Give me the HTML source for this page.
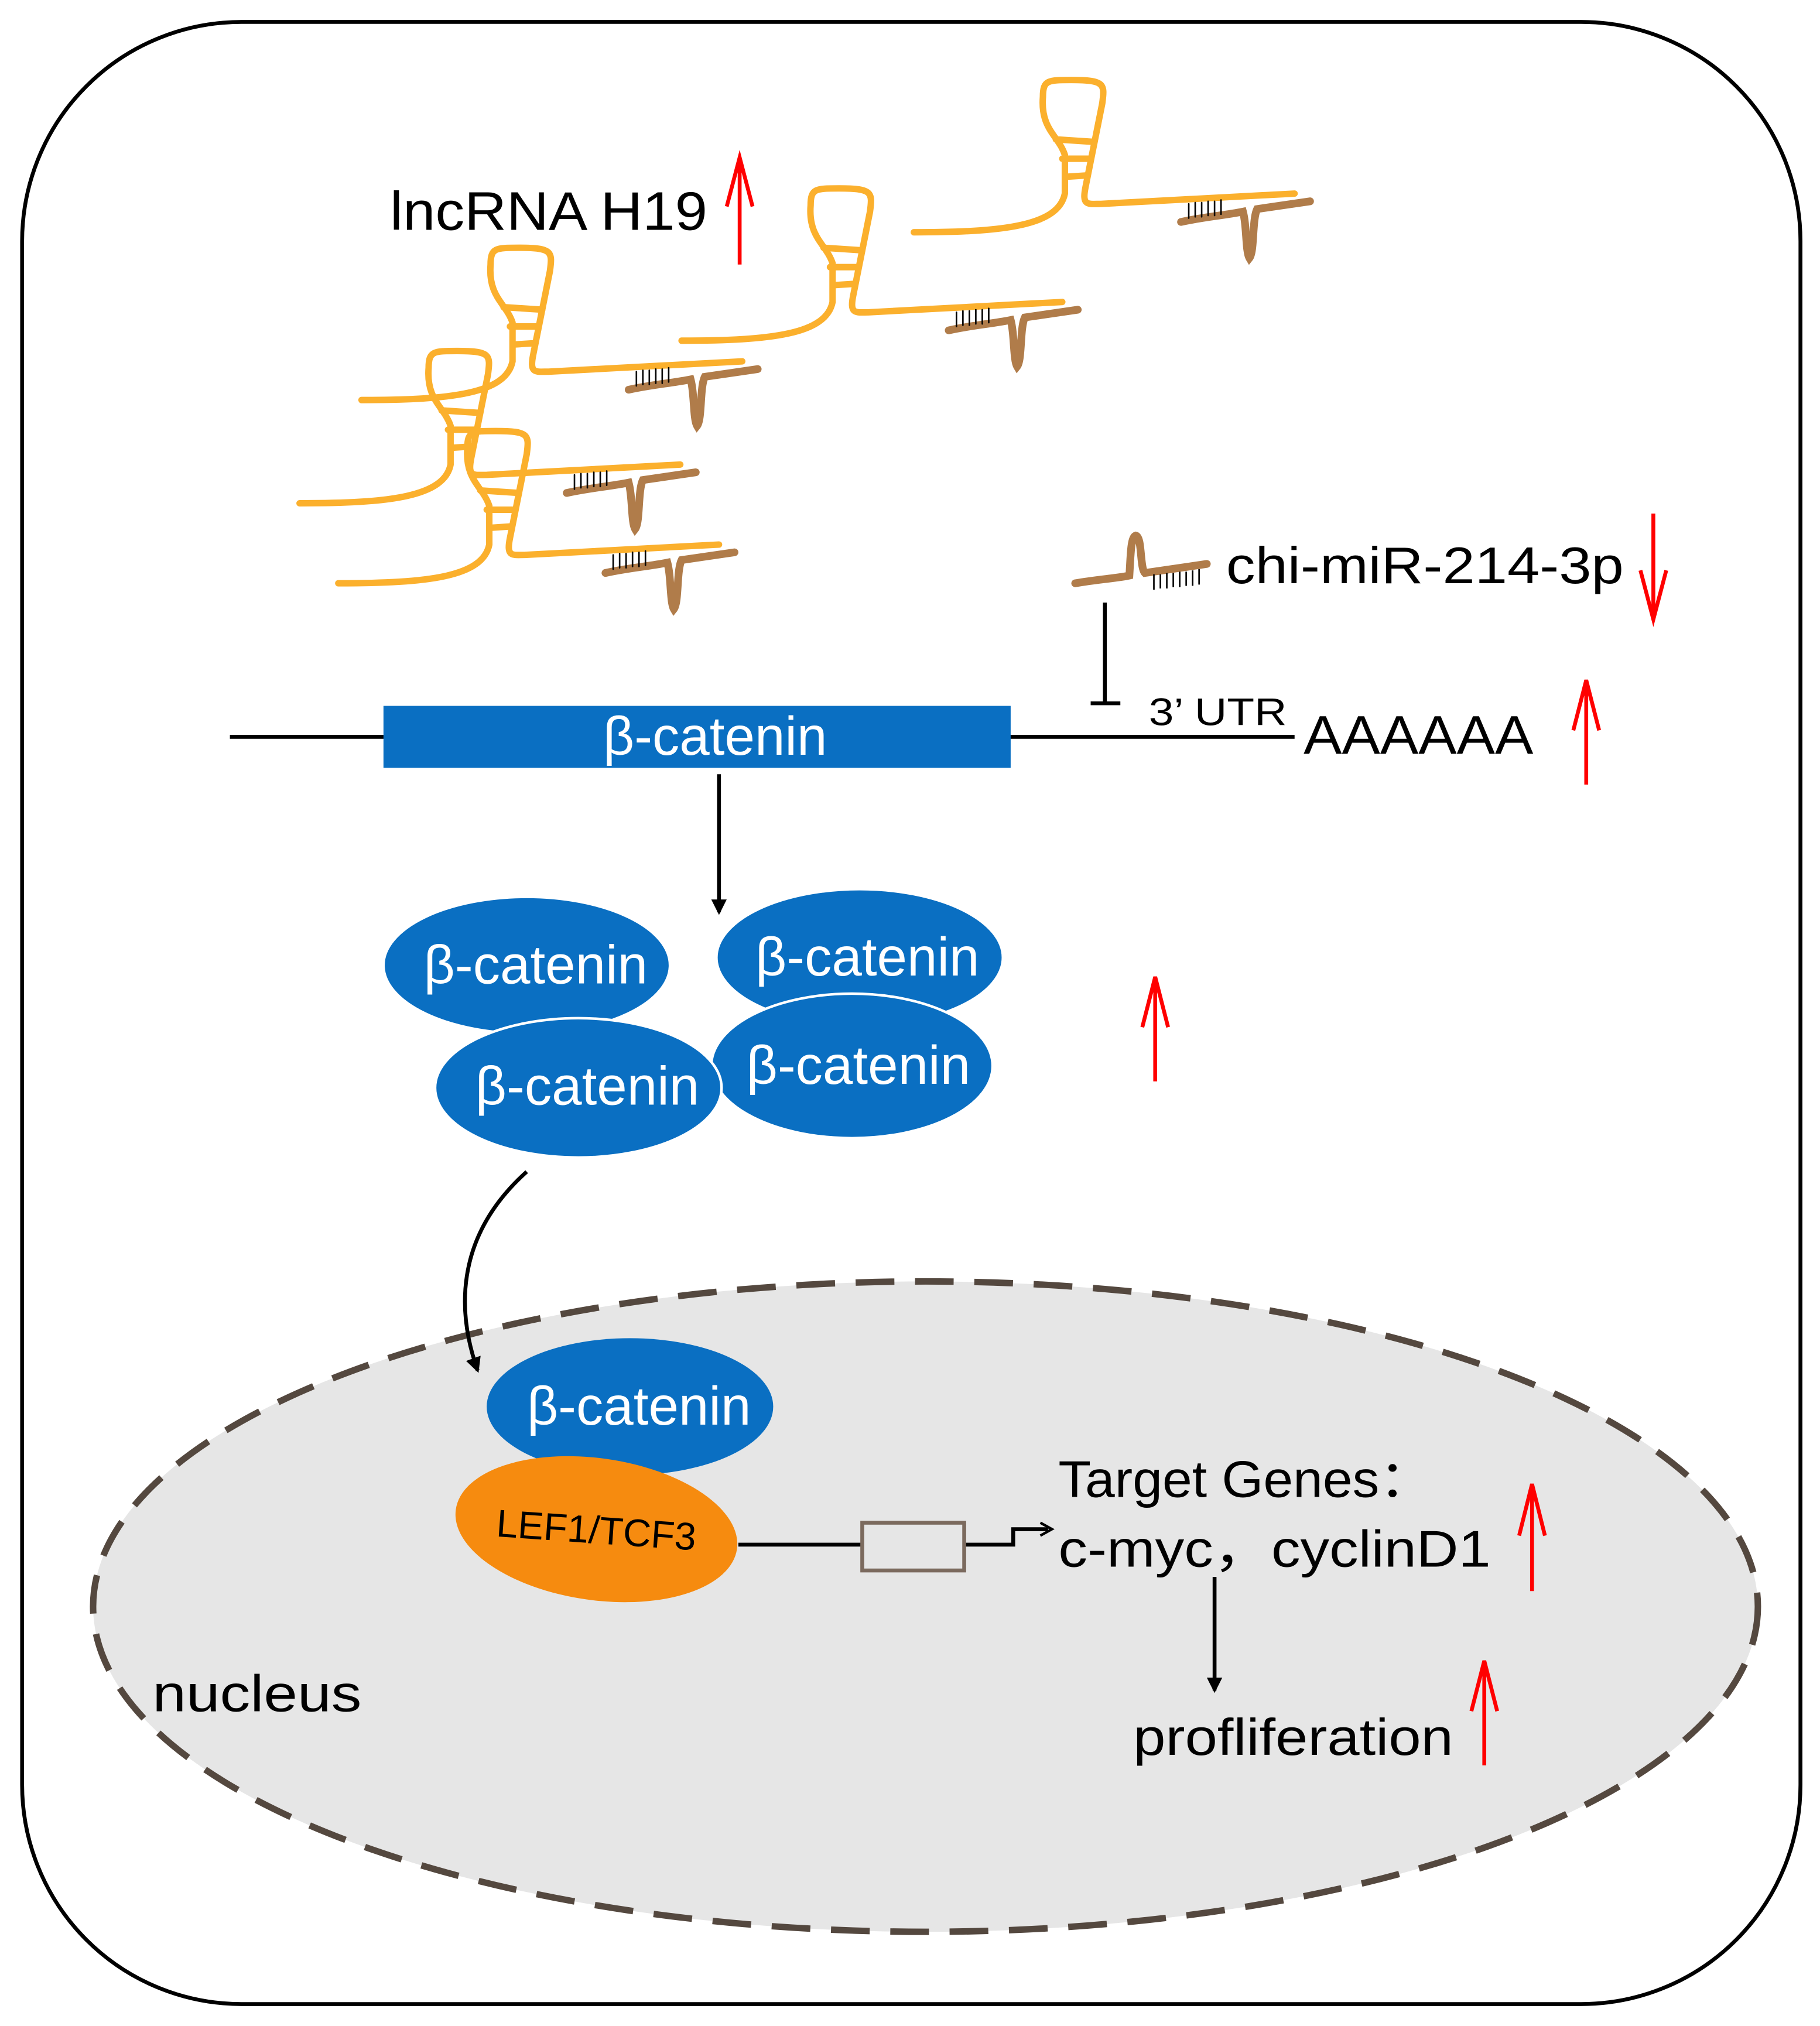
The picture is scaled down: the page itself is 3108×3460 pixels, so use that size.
<!DOCTYPE html>
<html><head><meta charset="utf-8"><style>html,body{margin:0;padding:0;background:#fff}svg{display:block}</style></head>
<body>
<svg width="3108" height="3460" viewBox="0 0 1410 1570" xmlns="http://www.w3.org/2000/svg" font-family="Liberation Sans, sans-serif">
<defs>
<g id="rna" fill="none" stroke-linecap="round">
<path d="M0,0 C70,0 112,-5 117,-30 L117,-60 C112,-75 98,-80 100,-105 C100,-118 104,-118 122,-118 C148,-118 148,-115 146,-100 L133,-35 C130,-20 135,-22 145,-22 L295,-30" stroke="#fbb02d" stroke-width="5"/>
<path d="M110,-72 L140,-70 M115,-57 L137,-57 M118,-43 L133,-44" stroke="#fbb02d" stroke-width="5"/>
<path d="M207,-8 C225,-12 240,-13 255,-16 C258,-5 257,15 260,20 C264,15 262,-10 266,-18 L307,-24" stroke="#b07c4a" stroke-width="6"/>
<path d="M213,-22 V-11 M218,-23 V-12 M223,-23 V-12 M228,-24 V-13 M233,-24 V-13 M238,-25 V-14" stroke="#000" stroke-width="1.2"/>
</g>
<marker id="ah" markerWidth="12" markerHeight="12" refX="10" refY="6" orient="auto" markerUnits="userSpaceOnUse"><path d="M0,0 L12,6 L0,12 z" fill="#000"/></marker>
</defs>
<rect x="17" y="17" width="1378" height="1536" rx="170" fill="#fff" stroke="#000" stroke-width="3"/>
<ellipse cx="717" cy="1245" rx="645" ry="252" fill="#e6e6e6" stroke="#54483f" stroke-width="5" stroke-dasharray="30 16"/>
<use href="#rna" transform="translate(708,180)"/>
<use href="#rna" transform="translate(528,264)"/>
<use href="#rna" transform="translate(280,310)"/>
<use href="#rna" transform="translate(232,390)"/>
<use href="#rna" transform="translate(262,452)"/>
<text x="302" y="178" font-size="42" textLength="246" lengthAdjust="spacingAndGlyphs">lncRNA H19</text>
<g stroke="#f00" stroke-width="3" fill="none">
<path d="M573,205 V122 M563,160 L573,122 L583,160"/>
<path d="M1281,398 V480 M1271,442 L1281,480 L1291,442"/>
<path d="M1229,608 V527 M1219,566 L1229,527 L1239,566"/>
<path d="M895,838 V757 M885,796 L895,757 L905,796"/>
<path d="M1187,1233 V1150 M1177,1190 L1187,1150 L1197,1190"/>
<path d="M1150,1368 V1287 M1140,1326 L1150,1287 L1160,1326"/>
</g>
<path d="M833,452 C850,449 866,448 875,446 C876,430 876,416 880,415 C885,416 883,440 887,444 L935,437" stroke="#b07c4a" stroke-width="6" fill="none" stroke-linecap="round"/>
<path d="M894,445 V457 M899,445 V456 M904,444 V456 M909,444 V455 M914,443 V455 M919,443 V454 M924,442 V454 M929,441 V453" stroke="#000" stroke-width="1.2"/>
<text x="950" y="452" font-size="40" textLength="308" lengthAdjust="spacingAndGlyphs">chi-miR-214-3p</text>
<path d="M856,467 V545 M845,545 H868" stroke="#000" stroke-width="3" fill="none"/>
<path d="M178,571 H1003" stroke="#000" stroke-width="3"/>
<rect x="297" y="547" width="486" height="48" fill="#0a6fc2"/>
<text x="554" y="585" font-size="42" fill="#fff" text-anchor="middle">β-catenin</text>
<text x="890" y="562" font-size="30" textLength="107" lengthAdjust="spacingAndGlyphs">3’ UTR</text>
<text x="1010" y="584" font-size="42" textLength="178" lengthAdjust="spacingAndGlyphs">AAAAAA</text>
<path d="M557,600 V707" stroke="#000" stroke-width="3" marker-end="url(#ah)"/>
<g fill="#0a6fc2" stroke="#fff" stroke-width="2">
<ellipse cx="408" cy="748" rx="111" ry="53"/>
<ellipse cx="666" cy="742" rx="111" ry="53"/>
<ellipse cx="660" cy="826" rx="109" ry="56"/>
<ellipse cx="448" cy="843" rx="111" ry="54"/>
</g>
<g fill="#fff" font-size="42" text-anchor="middle">
<text x="415" y="762">β-catenin</text>
<text x="672" y="756">β-catenin</text>
<text x="665" y="840">β-catenin</text>
<text x="455" y="856">β-catenin</text>
</g>
<path d="M408,908 C350,960 355,1020 370,1062" stroke="#000" stroke-width="3" fill="none" marker-end="url(#ah)"/>
<ellipse cx="488" cy="1090" rx="111" ry="53" fill="#0a6fc2"/>
<text x="495" y="1104" font-size="42" fill="#fff" text-anchor="middle">β-catenin</text>
<ellipse cx="462" cy="1185" rx="110" ry="55" transform="rotate(8 462 1185)" fill="#f68b0f"/>
<text x="462" y="1196" font-size="30" text-anchor="middle" transform="rotate(4 462 1185)">LEF1/TCF3</text>
<path d="M572,1197 H668 M747,1197 H785 V1185 H812" stroke="#000" stroke-width="3" fill="none"/>
<path d="M806,1180 L815,1185 L806,1190" stroke="#000" stroke-width="2" fill="none"/>
<rect x="668" y="1180" width="79" height="37" fill="none" stroke="#7b6a5e" stroke-width="3"/>
<text x="820" y="1160" font-size="40" textLength="290" lengthAdjust="spacingAndGlyphs">Target Genes：</text>
<text x="820" y="1214" font-size="40" textLength="335" lengthAdjust="spacingAndGlyphs">c-myc，cyclinD1</text>
<path d="M941,1222 V1310" stroke="#000" stroke-width="3" marker-end="url(#ah)"/>
<text x="878" y="1360" font-size="40" textLength="248" lengthAdjust="spacingAndGlyphs">profliferation</text>
<text x="118" y="1326" font-size="40" textLength="162" lengthAdjust="spacingAndGlyphs">nucleus</text>
</svg>
</body></html>
